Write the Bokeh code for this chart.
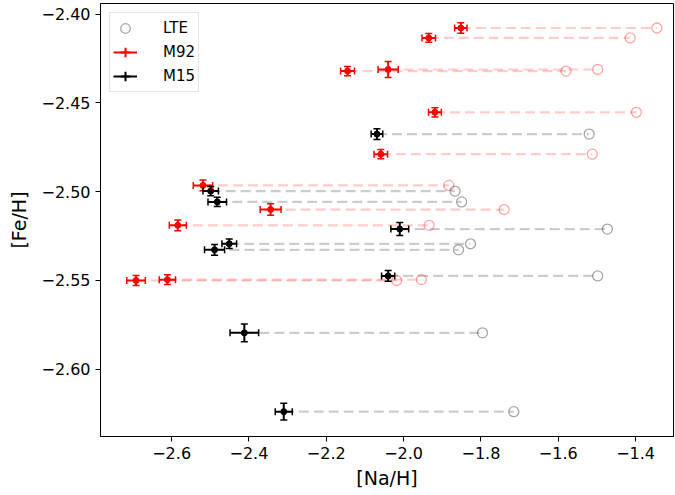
import numpy as np
from bokeh.plotting import figure
from bokeh.models import (ColumnDataSource, Range1d, FixedTicker, CustomJSTickFormatter,
                          Whisker, TeeHead, Legend, LegendItem)
from bokeh.embed import file_html
from bokeh.resources import INLINE

# ---- data ----
m92_na = [-1.852, -1.935, -2.145, -2.040, -1.919, -2.059, -2.519, -2.344, -2.584, -2.692, -2.611]
m92_lte = [-1.345, -1.414, -1.580, -1.498, -1.398, -1.512, -1.883, -1.740, -1.934, -2.018, -1.954]
m92_fe = [-2.4078, -2.4134, -2.4321, -2.4312, -2.4553, -2.4789, -2.4965, -2.5101, -2.5190, -2.5501, -2.5496]
m92_na_err = [0.016, 0.0175, 0.018, 0.026, 0.0166, 0.0175, 0.025, 0.027, 0.022, 0.024, 0.021]
m92_fe_err = [0.003, 0.0025, 0.0026, 0.0045, 0.0026, 0.0026, 0.003, 0.0032, 0.003, 0.0028, 0.0028]

m15_na = [-2.069, -2.499, -2.482, -2.010, -2.451, -2.489, -2.040, -2.412, -2.310]
m15_lte = [-1.520, -1.867, -1.850, -1.473, -1.827, -1.858, -1.498, -1.796, -1.715]
m15_fe = [-2.4676, -2.4997, -2.5058, -2.5211, -2.5294, -2.5328, -2.5475, -2.5796, -2.6240]
m15_na_err = [0.015, 0.020, 0.024, 0.023, 0.019, 0.026, 0.017, 0.037, 0.022]
m15_fe_err = [0.003, 0.0026, 0.0026, 0.0037, 0.0027, 0.003, 0.003, 0.005, 0.0047]

x_ticks = [-2.6, -2.4, -2.2, -2.0, -1.8, -1.6, -1.4]
y_ticks = [-2.60, -2.55, -2.50, -2.45, -2.40]

FONT = "DejaVu Sans"

p = figure(width=675, height=495, output_backend="svg", toolbar_location=None,
           x_range=Range1d(-2.784, -1.302), y_range=Range1d(-2.638, -2.394),
           min_border_left=100, min_border_right=2, min_border_top=3, min_border_bottom=59)
p.grid.visible = False
p.outline_line_color = "black"
p.outline_line_width = 1
p.background_fill_color = "white"
p.border_fill_color = "white"

p.xaxis.ticker = FixedTicker(ticks=x_ticks)
p.yaxis.ticker = FixedTicker(ticks=y_ticks)
p.xaxis.formatter = CustomJSTickFormatter(code="return tick.toFixed(1).replace('-', '\u2212');")
p.yaxis.formatter = CustomJSTickFormatter(code="return tick.toFixed(2).replace('-', '\u2212');")
p.xaxis.axis_label = "[Na/H]"
p.yaxis.axis_label = "[Fe/H]"
for ax in (p.xaxis[0], p.yaxis[0]):
    ax.axis_label_text_font = FONT
    ax.axis_label_text_font_style = "normal"
    ax.axis_label_text_font_size = "19px"
    ax.axis_label_text_color = "black"
    ax.major_label_text_font = FONT
    ax.major_label_text_font_size = "16px"
    ax.major_label_text_color = "black"
    ax.major_tick_out = 5
    ax.major_tick_in = 0
    ax.minor_tick_line_color = None
    ax.axis_line_color = "black"
    ax.major_tick_line_color = "black"
p.xaxis.axis_label_standoff = 5
p.yaxis.axis_label_standoff = 8
p.xaxis.major_label_standoff = 5
p.yaxis.major_label_standoff = 5


def cluster(na, lte, fe, na_err, fe_err):
    return ColumnDataSource(dict(
        na=na, lte=lte, fe=fe,
        xl=[a - e for a, e in zip(na, na_err)], xu=[a + e for a, e in zip(na, na_err)],
        yl=[a - e for a, e in zip(fe, fe_err)], yu=[a + e for a, e in zip(fe, fe_err)]))


red_src = cluster(m92_na, m92_lte, m92_fe, m92_na_err, m92_fe_err)
blk_src = cluster(m15_na, m15_lte, m15_fe, m15_na_err, m15_fe_err)

# dashed connectors and LTE circles
for src, col in ((red_src, "red"), (blk_src, "black")):
    p.segment(x0="na", y0="fe", x1="lte", y1="fe", source=src, line_color=col,
              line_alpha=0.2, line_width=2.2, line_dash="10 5")
for src, col in ((red_src, "red"), (blk_src, "black")):
    p.scatter(x="lte", y="fe", source=src, marker="circle", size=10,
              fill_color=None, line_color=col, line_alpha=0.35, line_width=1.3)

# error bars
for src, col in ((red_src, "red"), (blk_src, "black")):
    for dim, base, lo, up in (("width", "fe", "xl", "xu"), ("height", "na", "yl", "yu")):
        w = Whisker(source=src, dimension=dim, base=base, lower=lo, upper=up,
                    line_color=col, line_width=2,
                    upper_head=TeeHead(size=7, line_color=col, line_width=1.5),
                    lower_head=TeeHead(size=7, line_color=col, line_width=1.5),
                    level="glyph")
        p.add_layout(w)
    p.scatter(x="na", y="fe", source=src, marker="circle", size=6,
              fill_color=col, line_color=col)

# legend-only renderers: a single NaN row, so nothing is drawn in the plot area
nan_src = ColumnDataSource(dict(x=np.array([np.nan]), y=np.array([np.nan])))
lte_leg = p.scatter(x="x", y="y", source=nan_src, marker="circle",
                    fill_color=None, line_color="black", line_alpha=0.35, line_width=1.3)
leg = {}
for key, col in (("M92", "red"), ("M15", "black")):
    s = p.segment(x0="x", y0="y", x1="x", y1="y", source=nan_src, line_color=col, line_width=2)
    c = p.scatter(x="x", y="y", source=nan_src, marker="cross", line_color=col, line_width=2)
    d = p.scatter(x="x", y="y", source=nan_src, marker="dot", fill_color=col,
                  line_color=col, line_width=7)
    leg[key] = [s, c, d]

legend = Legend(items=[LegendItem(label="LTE", renderers=[lte_leg]),
                       LegendItem(label="M92", renderers=leg["M92"]),
                       LegendItem(label="M15", renderers=leg["M15"])],
                location="top_left", margin=9, padding=3, spacing=0,
                glyph_width=24, glyph_height=24, label_standoff=26,
                label_text_font=FONT, label_text_font_size="15px",
                label_text_color="black", label_height=20,
                border_line_color="#cccccc", border_line_width=1,
                background_fill_color="white", background_fill_alpha=0.8)
p.add_layout(legend)

open("out.html", "w").write(file_html(p, INLINE))
